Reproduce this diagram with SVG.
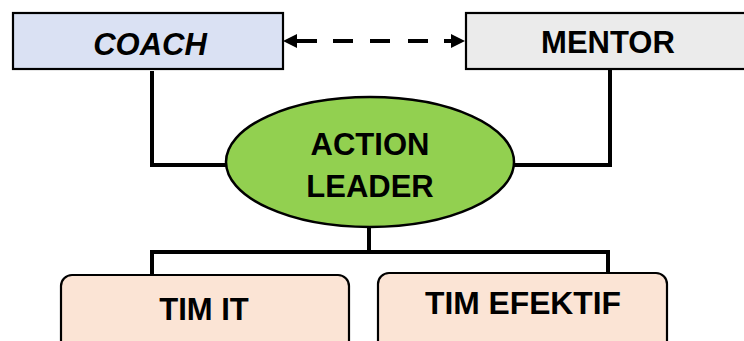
<svg xmlns="http://www.w3.org/2000/svg" width="744" height="341" viewBox="0 0 744 341">
<style>
.box{stroke:#000;stroke-width:2.2}
.conn{fill:none;stroke:#000;stroke-width:4;stroke-linecap:square}
.lbl{font-family:"Liberation Sans",Arial,sans-serif;font-weight:bold;font-size:31px;fill:#000;text-anchor:middle}
</style>
<defs>
<marker id="ah" markerUnits="userSpaceOnUse" markerWidth="16" markerHeight="16" refX="0" refY="7" orient="auto-start-reverse" viewBox="0 0 16 14">
<path d="M0,0 L14,7 L0,14 Z" fill="#000"/>
</marker>
</defs>
<g id="connectors">
<path class="conn" d="M152,73 V165 H227"/>
<path class="conn" d="M610,70 V165 H513"/>
<path class="conn" d="M369,228 V252 M152,275 V252 H608 V273"/>
<line x1="297" y1="41" x2="451" y2="41" stroke="#000" stroke-width="4" stroke-dasharray="20 16 20 17 20 18 20 16 7" marker-start="url(#ah)" marker-end="url(#ah)"/>
</g>
<g id="coach">
<rect class="box" x="13" y="13" width="270" height="56" fill="#dae1f3"/>
<text class="lbl" x="150" y="55" font-style="italic">COACH</text>
</g>
<g id="mentor">
<rect class="box" x="466" y="13" width="290" height="56" fill="#ebebeb"/>
<text class="lbl" x="608" y="53">MENTOR</text>
</g>
<g id="action-leader">
<ellipse cx="370" cy="162" rx="144" ry="65" fill="#92d050" stroke="#000" stroke-width="2.5"/>
<text class="lbl" x="370" y="155">ACTION</text>
<text class="lbl" x="370" y="197">LEADER</text>
</g>
<g id="tim-it">
<rect class="box" x="61" y="275" width="288" height="90" rx="11" fill="#fbe4d5"/>
<text class="lbl" x="204" y="320">TIM IT</text>
</g>
<g id="tim-efektif">
<rect class="box" x="378" y="273" width="289" height="90" rx="11" fill="#fbe4d5"/>
<text class="lbl" x="523" y="314" textLength="196" lengthAdjust="spacingAndGlyphs">TIM EFEKTIF</text>
</g>
</svg>
